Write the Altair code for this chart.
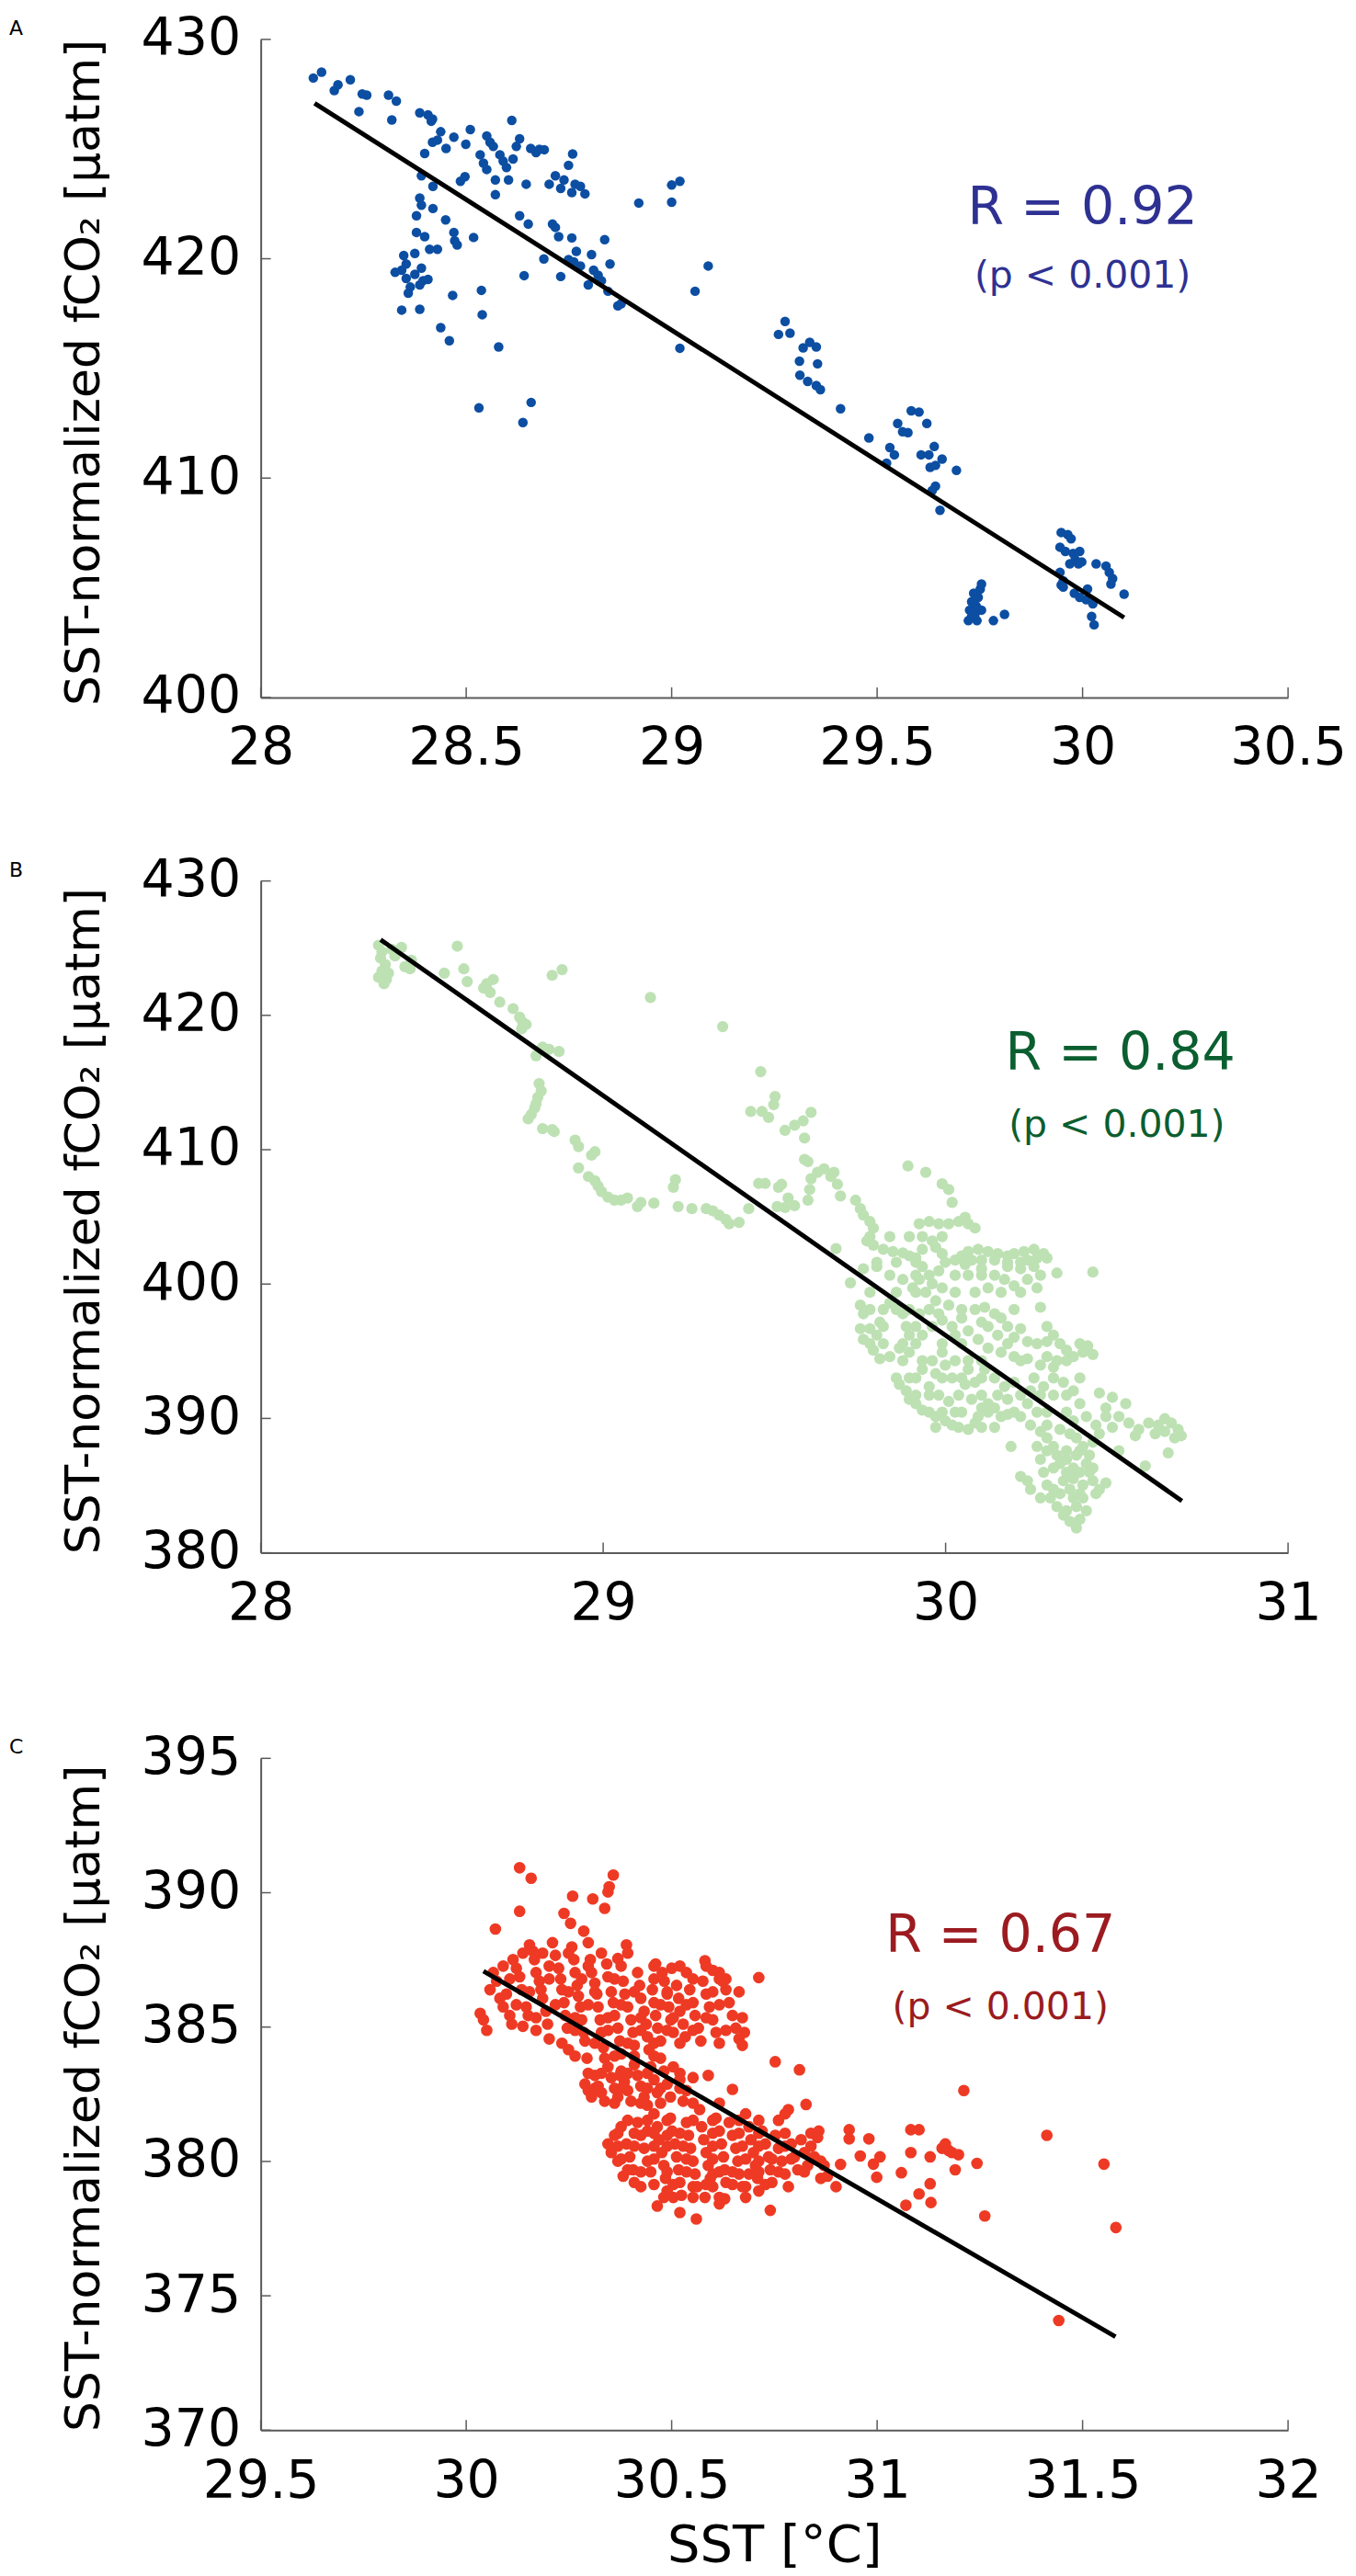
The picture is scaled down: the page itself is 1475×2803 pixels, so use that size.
import altair as alt
import pandas as pd

# ---------------- Panel A (blue) : (SST, fCO2) ----------------
A_POINTS = [
    (28.128, 428.24), (28.148, 428.51), (28.179, 427.67), (28.188, 427.93), (28.218, 428.16),
    (28.239, 426.71), (28.247, 427.51), (28.258, 427.46), (28.311, 427.46), (28.330, 427.19),
    (28.319, 426.33), (28.387, 426.65), (28.407, 426.56), (28.415, 426.27), (28.418, 426.37),
    (28.399, 424.80), (28.418, 425.31), (28.438, 425.79), (28.430, 425.41), (28.451, 425.03),
    (28.470, 425.54), (28.391, 423.78), (28.419, 423.30), (28.486, 423.53), (28.497, 423.74),
    (28.499, 425.22), (28.510, 425.89), (28.534, 424.74), (28.542, 424.36), (28.550, 425.60),
    (28.550, 424.07), (28.558, 425.31), (28.566, 425.12), (28.571, 423.59), (28.571, 422.92),
    (28.582, 424.74), (28.590, 424.45), (28.598, 424.16), (28.603, 423.59), (28.611, 426.31),
    (28.614, 424.55), (28.622, 425.12), (28.630, 425.47), (28.646, 423.40), (28.657, 425.03),
    (28.670, 424.84), (28.678, 424.99), (28.690, 424.97), (28.702, 423.40), (28.717, 423.78),
    (28.730, 423.21), (28.738, 423.59), (28.749, 424.26), (28.759, 424.78), (28.757, 423.02),
    (28.765, 423.40), (28.778, 423.30), (28.789, 422.96), (28.387, 422.77), (28.391, 422.44),
    (28.419, 422.29), (28.379, 421.96), (28.450, 421.77), (28.379, 421.20), (28.399, 421.01),
    (28.470, 421.20), (28.472, 420.82), (28.478, 420.63), (28.518, 420.97), (28.411, 420.43),
    (28.430, 420.43), (28.375, 420.24), (28.348, 420.15), (28.354, 419.76), (28.343, 419.48),
    (28.327, 419.38), (28.354, 419.10), (28.375, 419.29), (28.391, 419.57), (28.395, 419.00),
    (28.407, 419.06), (28.364, 418.71), (28.387, 418.81), (28.359, 418.43), (28.343, 417.66),
    (28.387, 417.70), (28.467, 418.33), (28.537, 418.56), (28.539, 417.45), (28.438, 416.86),
    (28.459, 416.26), (28.579, 415.98), (28.531, 413.20), (28.638, 412.53), (28.658, 413.45),
    (28.630, 421.96), (28.651, 421.58), (28.641, 419.23), (28.689, 419.99), (28.710, 421.58),
    (28.717, 421.43), (28.725, 421.01), (28.730, 419.19), (28.757, 420.95), (28.749, 419.96),
    (28.762, 419.86), (28.768, 420.34), (28.778, 419.67), (28.805, 420.19), (28.810, 419.48),
    (28.821, 419.25), (28.829, 419.00), (28.797, 418.81), (28.837, 420.87), (28.850, 419.76),
    (28.845, 418.52), (28.869, 417.85), (28.877, 417.95), (28.920, 422.54), (29.000, 422.58),
    (29.000, 423.36), (29.020, 423.53), (29.089, 419.67), (29.057, 418.52), (29.020, 415.92),
    (29.260, 416.55), (29.276, 417.14), (29.288, 416.61), (29.320, 415.94), (29.336, 416.19),
    (29.352, 415.98), (29.311, 415.33), (29.355, 415.21), (29.312, 414.69), (29.331, 414.41),
    (29.352, 414.22), (29.362, 414.03), (29.411, 413.16), (29.480, 411.83), (29.523, 410.68),
    (29.531, 411.39), (29.542, 411.06), (29.550, 412.49), (29.562, 412.11), (29.575, 412.07),
    (29.583, 413.07), (29.602, 413.01), (29.621, 412.49), (29.607, 411.06), (29.626, 411.06),
    (29.639, 411.44), (29.629, 410.49), (29.642, 410.58), (29.658, 410.87), (29.642, 409.63),
    (29.634, 409.43), (29.653, 408.53), (29.693, 410.35),
    (29.722, 403.50), (29.725, 403.98), (29.730, 404.36), (29.735, 404.75), (29.738, 403.79),
    (29.741, 404.17), (29.746, 404.56), (29.751, 404.94), (29.754, 405.17), (29.743, 403.50),
    (29.754, 403.98), (29.730, 403.69), (29.783, 403.50), (29.810, 403.79),
    (29.948, 407.52), (29.964, 407.42), (29.972, 407.23), (29.945, 406.85), (29.958, 406.66),
    (29.977, 406.56), (29.993, 406.66), (29.982, 406.28), (29.969, 406.09), (29.990, 406.09),
    (29.998, 406.18), (29.945, 405.70), (29.953, 405.32), (29.948, 405.13), (29.980, 404.75),
    (29.993, 404.56), (30.012, 404.94), (30.009, 404.46), (30.025, 404.27), (30.022, 403.69),
    (30.028, 403.31), (30.033, 406.09), (30.057, 405.99), (30.065, 405.70), (30.073, 405.42),
    (30.069, 405.17), (30.101, 404.71), (29.953, 405.03),
]
A_FIT_SST = [28.131, 30.101]
A_FIT_FCO2 = [427.09, 403.64]

# ---------------- Panel B (green) ----------------
B_UPPER = [
    (28.344, 425.22), (28.354, 424.74), (28.350, 424.26), (28.364, 423.78), (28.354, 423.30),
    (28.344, 422.83), (28.360, 422.35), (28.367, 422.67), (28.373, 423.14), (28.383, 424.90),
    (28.392, 424.42), (28.411, 425.06), (28.421, 423.62), (28.436, 423.46), (28.440, 424.10),
    (28.574, 425.15), (28.536, 423.14), (28.593, 423.46), (28.603, 422.51), (28.651, 422.03),
    (28.660, 422.35), (28.670, 421.71), (28.679, 422.67), (28.698, 420.98), (28.737, 420.50),
    (28.756, 419.86), (28.765, 419.48), (28.775, 419.32), (28.762, 419.00), (28.851, 422.98),
    (28.880, 423.40), (29.138, 421.33), (29.349, 419.16), (28.823, 417.63), (28.842, 417.47),
    (28.871, 417.31), (28.804, 416.99),
]
B_ARC = [
    (28.813, 414.92), (28.819, 414.37), (28.809, 413.90), (28.804, 413.42), (28.800, 413.10),
    (28.790, 412.62), (28.781, 412.30), (28.823, 411.57), (28.851, 411.50), (28.857, 411.35),
    (28.918, 410.71), (28.928, 410.23), (28.966, 409.59), (28.976, 409.85), (28.928, 408.64),
    (28.957, 408.00), (28.976, 407.68), (28.985, 407.30), (28.995, 406.88), (29.014, 406.47),
    (29.033, 406.24), (29.052, 406.24), (29.071, 406.40), (29.100, 405.77), (29.110, 406.08),
    (29.148, 406.02), (29.205, 407.20), (29.211, 407.77), (29.219, 405.77), (29.259, 405.61),
    (29.301, 405.61), (29.320, 405.45), (29.339, 405.13), (29.358, 404.81), (29.368, 404.49),
    (29.397, 404.59), (29.425, 405.61),
]
B_MID = [
    (29.460, 415.81), (29.502, 413.96), (29.498, 413.35), (29.431, 412.84), (29.464, 412.84),
    (29.483, 412.40), (29.531, 411.44), (29.559, 411.82), (29.584, 412.14), (29.607, 412.78),
    (29.588, 410.87), (29.588, 409.27), (29.598, 409.11), (29.454, 407.49), (29.473, 407.49),
    (29.512, 407.20), (29.521, 407.42), (29.540, 406.40), (29.531, 405.70), (29.508, 405.77),
    (29.559, 405.83), (29.598, 406.24), (29.603, 407.04), (29.607, 407.84), (29.626, 408.32),
    (29.645, 408.57), (29.665, 408.00), (29.674, 408.32), (29.684, 407.42), (29.693, 406.56),
    (29.737, 406.24), (29.751, 405.61), (29.760, 405.13), (29.779, 404.65), (29.789, 404.17),
    (29.680, 402.64), (29.890, 408.79), (29.942, 408.32), (29.990, 407.46), (30.009, 407.04),
    (30.019, 406.08),
]
B_CORE = [
    (29.923, 404.49), (29.952, 404.65), (29.980, 404.49), (30.009, 404.49), (30.038, 404.65),
    (30.066, 404.49), (30.086, 404.17), (30.057, 404.97),
    (29.770, 403.21), (29.789, 402.90), (29.818, 402.58), (29.846, 402.42), (29.875, 402.32),
    (29.894, 402.10), (29.913, 401.94), (29.932, 402.58), (29.961, 403.21), (29.971, 402.74),
    (29.990, 402.26), (30.028, 401.78), (30.047, 402.10), (30.066, 402.42), (30.095, 402.58),
    (30.124, 402.42), (30.152, 402.26), (30.181, 402.10), (30.200, 402.26), (30.229, 402.42),
    (30.258, 402.58), (30.286, 402.26), (30.296, 401.94), (30.267, 401.94), (30.239, 401.78),
    (30.219, 401.62), (30.181, 401.62), (30.143, 401.78), (30.105, 401.78), (30.076, 401.78),
    (30.057, 401.46),
    (29.932, 401.30), (29.952, 400.66), (29.961, 400.02), (29.942, 399.39), (29.971, 398.75),
    (29.952, 398.11), (29.980, 400.98), (29.923, 400.34), (29.904, 399.71), (29.990, 399.71),
    (30.105, 401.14), (30.143, 400.66), (30.172, 400.34), (30.200, 399.87), (30.239, 400.34),
    (30.267, 399.71), (30.277, 400.66), (30.325, 400.82), (30.430, 400.89), (30.258, 401.30),
    (30.219, 401.14), (30.181, 401.30), (30.124, 399.71), (30.086, 399.39),
    (29.722, 400.09), (29.760, 401.14), (29.799, 401.30), (29.837, 400.66), (29.875, 400.34),
    (29.751, 398.43), (29.760, 397.79), (29.751, 396.68), (29.760, 395.88), (29.779, 395.56),
    (29.799, 396.20), (29.808, 397.16), (29.818, 398.11), (29.837, 398.59), (29.856, 398.11),
    (29.875, 397.79), (29.885, 396.84), (29.894, 396.20), (29.779, 396.68), (29.789, 395.08),
    (29.808, 394.44), (29.837, 394.60), (29.865, 395.24), (29.894, 394.92), (29.913, 395.56),
    (29.932, 396.20), (29.961, 396.84), (29.990, 397.31), (30.019, 396.84), (30.028, 396.20),
    (30.047, 397.47), (30.066, 396.52), (29.923, 397.79), (29.980, 397.79), (30.009, 398.43),
    (30.114, 398.27), (30.143, 397.79), (30.162, 397.47), (30.181, 396.84), (30.219, 396.68),
    (30.200, 396.04), (30.277, 398.27), (30.239, 395.72), (30.267, 395.56), (30.296, 395.72),
    (30.315, 396.20), (30.334, 395.56), (30.353, 395.08), (30.392, 395.56), (30.415, 395.40),
    (30.430, 394.76), (30.401, 394.92), (30.373, 394.60), (30.325, 394.29), (30.296, 394.60),
    (30.152, 396.20), (30.105, 397.16), (30.095, 395.88), (30.124, 395.24), (30.162, 394.92),
    (30.200, 394.60), (30.239, 394.44), (30.277, 393.97), (30.315, 393.81),
]
B_CORE_DENSE = [
    (29.779, 403.53), (29.837, 403.53), (29.894, 403.53), (29.932, 403.53), (29.990, 403.53),
    (29.799, 401.62), (29.856, 401.62), (29.913, 401.62), (29.999, 401.62),
    (29.913, 400.66), (30.028, 400.66), (30.066, 400.66), (30.105, 400.66),
    (29.779, 399.39), (29.856, 399.39), (29.913, 399.39), (30.028, 399.39), (30.162, 399.39),
    (30.219, 399.39),
    (29.779, 398.11), (29.894, 398.11), (30.047, 398.11), (30.086, 398.11), (30.200, 398.11),
    (29.818, 396.84), (29.913, 396.84), (30.124, 396.84), (30.296, 396.84),
    (29.818, 395.56), (29.875, 395.56), (29.990, 395.56), (30.047, 395.56), (30.181, 395.56),
    (29.875, 394.29), (29.932, 394.29), (30.066, 394.29), (30.105, 394.29), (30.219, 394.29),
    (30.353, 394.29),
    (29.894, 393.01), (29.990, 393.01), (30.047, 393.01), (30.105, 393.01), (30.258, 393.01),
    (30.392, 393.01),
    (29.913, 391.73), (29.952, 391.73), (30.105, 391.73), (30.152, 391.73), (30.277, 391.73),
    (30.353, 391.73),
    (29.990, 390.46), (30.028, 390.46), (30.124, 390.46), (30.200, 390.46), (30.296, 390.46),
    (29.971, 389.34), (30.105, 389.34), (30.143, 389.34),
    (30.296, 387.59), (30.353, 387.59), (30.392, 387.59),
    (30.315, 386.31), (30.373, 386.31), (30.430, 386.31),
    (30.334, 384.40), (30.392, 384.40), (30.439, 384.40),
    (30.353, 383.13), (30.411, 383.13),
]
B_LOWER = [
    (29.856, 393.01), (29.865, 392.53), (29.885, 392.05), (29.894, 391.42), (29.913, 391.10),
    (29.932, 390.62), (29.952, 390.46), (29.971, 390.14), (29.999, 389.82), (30.019, 389.50),
    (30.038, 389.34), (30.066, 389.18), (30.086, 389.66), (30.095, 390.14), (30.105, 390.78),
    (30.124, 391.10), (30.143, 390.78), (30.162, 390.14), (30.181, 390.30), (29.952, 392.37),
    (29.971, 393.33), (29.999, 393.97), (30.019, 393.01), (30.038, 391.73), (30.057, 392.53),
    (30.066, 393.65), (30.028, 394.29), (29.990, 394.92), (29.961, 394.29), (29.932, 393.65),
    (29.913, 393.01), (30.076, 391.42), (30.009, 391.26), (29.980, 391.73), (30.047, 390.46),
    (30.086, 392.69), (30.114, 393.65), (30.143, 393.01), (30.172, 392.37), (30.200, 392.69),
    (30.219, 391.73), (30.181, 391.42), (30.239, 391.10), (30.267, 390.46), (30.248, 392.05),
    (30.286, 392.37), (30.315, 391.73), (30.344, 392.69), (30.373, 392.05), (30.392, 391.10),
    (30.353, 390.46), (30.315, 393.01),
    (30.219, 390.14), (30.248, 389.50), (30.277, 389.02), (30.296, 388.55), (30.315, 387.91),
    (30.325, 387.27), (30.334, 386.63), (30.353, 385.99), (30.373, 385.52), (30.392, 385.99),
    (30.411, 386.63), (30.420, 387.27), (30.401, 387.91), (30.382, 388.55), (30.363, 388.86),
    (30.334, 389.18), (30.296, 389.50), (30.267, 387.91), (30.277, 386.95), (30.286, 385.99),
    (30.296, 385.04), (30.306, 384.08), (30.325, 383.44), (30.344, 382.80), (30.363, 382.33),
    (30.382, 381.85), (30.392, 382.49), (30.382, 383.44), (30.373, 384.08), (30.363, 384.72),
    (30.401, 385.04), (30.430, 385.36), (30.449, 384.72), (30.468, 385.20), (30.219, 385.68),
    (30.239, 385.36), (30.248, 384.72), (30.191, 387.91), (30.277, 384.08), (30.315, 384.72),
    (30.344, 385.36), (30.420, 385.99), (30.401, 384.08), (30.353, 386.95), (30.382, 387.27),
    (30.430, 388.23), (30.449, 388.86), (30.439, 389.50), (30.411, 390.14), (30.373, 389.82),
    (30.468, 390.14),
    (30.449, 391.89), (30.487, 391.57), (30.526, 391.10), (30.468, 390.78), (30.506, 390.14),
    (30.535, 389.66), (30.564, 389.18), (30.593, 389.66), (30.621, 389.50), (30.640, 389.98),
    (30.659, 389.66), (30.679, 389.18), (30.688, 388.71), (30.669, 388.55), (30.640, 389.02),
    (30.612, 388.86), (30.506, 387.59), (30.583, 386.47), (30.650, 387.43), (30.554, 388.71),
    (30.487, 389.34),
]
B_FIT_SST = [28.35, 30.69]
B_FIT_FCO2 = [425.63, 383.86]

# ---------------- Panel C (red) ----------------
C_SCATTER = [
    (30.130, 390.93), (30.158, 390.54), (30.358, 390.66), (30.348, 390.22), (30.345, 390.03),
    (30.259, 389.87), (30.308, 389.77), (30.337, 389.42), (30.130, 389.31), (30.238, 389.23),
    (30.071, 388.65), (30.286, 388.57), (30.390, 388.06), (30.369, 387.55), (30.461, 387.35),
    (30.500, 387.19), (30.581, 387.47), (30.712, 386.84), (30.752, 383.71), (30.811, 383.41),
    (30.648, 382.68), (30.589, 383.20), (31.211, 382.64), (31.413, 380.97), (31.552, 379.90),
    (31.581, 377.54), (31.442, 374.08), (31.262, 377.97), (31.243, 379.93), (31.190, 379.69),
    (31.166, 380.65), (31.174, 380.41), (31.158, 380.49), (31.182, 380.33), (31.198, 380.25),
    (31.129, 380.17), (31.129, 379.17), (31.131, 378.47), (31.102, 378.79), (31.070, 378.37),
    (31.082, 380.33), (31.082, 381.18), (31.102, 381.18), (31.059, 379.58), (30.999, 379.41),
    (30.991, 379.90), (31.007, 380.17), (30.980, 380.84), (30.932, 381.18), (30.932, 380.84),
    (30.959, 380.20), (30.911, 379.89), (30.900, 379.06), (30.858, 381.13), (30.863, 379.37),
    (30.827, 382.12),
]
C_UPPER = [
    (30.034, 385.51), (30.042, 385.27), (30.050, 384.88), (30.058, 386.39), (30.066, 387.03),
    (30.074, 386.71), (30.082, 386.07), (30.090, 385.75), (30.098, 386.23), (30.106, 385.43),
    (30.111, 385.11), (30.114, 387.51), (30.122, 387.19), (30.130, 386.87), (30.135, 386.39),
    (30.138, 385.03), (30.146, 385.75), (30.151, 385.43), (30.154, 388.06), (30.162, 387.83),
    (30.166, 387.51), (30.170, 387.03), (30.178, 386.71), (30.182, 386.39), (30.186, 386.07),
    (30.194, 385.59), (30.198, 385.11), (30.202, 384.56), (30.210, 388.14), (30.217, 387.67),
    (30.225, 387.19), (30.230, 386.79), (30.233, 386.39), (30.238, 385.91), (30.241, 385.43),
    (30.246, 384.96), (30.249, 384.16), (30.254, 388.86), (30.257, 387.98), (30.262, 387.51),
    (30.265, 387.03), (30.270, 386.55), (30.273, 386.15), (30.278, 385.75), (30.281, 385.27),
    (30.286, 384.80), (30.289, 384.48), (30.294, 383.84), (30.297, 388.14), (30.302, 387.51),
    (30.305, 387.03), (30.313, 386.63), (30.318, 386.23), (30.321, 385.75), (30.326, 385.27),
    (30.329, 384.80), (30.334, 384.24), (30.337, 383.84), (30.342, 387.35), (30.345, 386.87),
    (30.353, 386.31), (30.358, 385.91), (30.361, 385.43), (30.369, 384.96), (30.374, 384.48),
    (30.377, 384.00), (30.382, 386.71), (30.386, 386.23), (30.393, 385.75), (30.401, 385.27),
    (30.406, 384.80), (30.409, 384.32), (30.417, 387.03), (30.422, 386.55), (30.425, 386.07),
    (30.433, 385.59), (30.438, 385.11), (30.441, 384.64), (30.445, 384.16), (30.453, 386.39),
    (30.457, 385.91), (30.461, 385.43), (30.466, 384.96), (30.473, 384.48), (30.477, 387.03),
    (30.482, 386.71), (30.489, 386.23), (30.493, 385.75), (30.498, 385.27), (30.504, 384.80),
    (30.512, 386.55), (30.517, 386.07), (30.520, 385.59), (30.528, 385.11), (30.533, 384.64),
    (30.536, 387.03), (30.544, 386.39), (30.552, 385.91), (30.557, 385.43), (30.565, 384.96),
    (30.571, 384.48), (30.576, 386.71), (30.584, 386.23), (30.592, 385.75), (30.600, 385.27),
    (30.608, 384.80), (30.616, 387.03), (30.624, 386.71), (30.632, 386.39), (30.640, 385.91),
    (30.648, 385.43), (30.656, 384.96), (30.664, 384.56), (30.672, 384.32), (30.677, 384.80),
    (30.600, 387.11), (30.632, 386.79),
]
C_UPPER_DENSE = [
    (30.138, 387.75), (30.186, 387.75), (30.249, 387.75), (30.329, 387.75), (30.393, 387.75),
    (30.090, 387.27), (30.202, 387.27), (30.297, 387.27), (30.377, 387.27), (30.457, 387.27),
    (30.520, 387.27), (30.584, 387.27),
    (30.106, 386.79), (30.202, 386.79), (30.281, 386.79), (30.361, 386.79), (30.457, 386.79),
    (30.552, 386.79), (30.616, 386.79),
    (30.154, 386.31), (30.249, 386.31), (30.313, 386.31), (30.409, 386.31), (30.489, 386.31),
    (30.600, 386.31), (30.664, 386.31),
    (30.122, 385.83), (30.217, 385.83), (30.297, 385.83), (30.377, 385.83), (30.473, 385.83),
    (30.536, 385.83), (30.616, 385.83),
    (30.170, 385.35), (30.265, 385.35), (30.345, 385.35), (30.425, 385.35), (30.504, 385.35),
    (30.584, 385.35), (30.672, 385.35),
    (30.170, 384.88), (30.265, 384.88), (30.345, 384.88), (30.425, 384.88), (30.489, 384.88),
    (30.552, 384.88), (30.632, 384.88),
    (30.233, 384.40), (30.313, 384.40), (30.393, 384.40), (30.457, 384.40), (30.520, 384.40),
    (30.616, 384.40),
    (30.265, 383.92), (30.361, 383.92), (30.409, 383.92), (30.457, 383.92),
]
C_MIDDLE = [
    (30.289, 382.88), (30.297, 382.64), (30.305, 382.40), (30.313, 383.20), (30.321, 382.80),
    (30.329, 382.56), (30.337, 382.24), (30.345, 383.52), (30.353, 383.12), (30.361, 382.72),
    (30.369, 382.40), (30.377, 383.36), (30.385, 382.96), (30.393, 382.64), (30.401, 382.24),
    (30.409, 383.60), (30.417, 383.20), (30.425, 382.80), (30.433, 382.40), (30.441, 382.09),
    (30.449, 383.52), (30.457, 383.04), (30.465, 382.56), (30.473, 383.84), (30.481, 383.36),
    (30.489, 382.88), (30.497, 382.40), (30.504, 383.52), (30.520, 383.04), (30.536, 382.64),
    (30.552, 383.12), (30.374, 383.20),
    (30.297, 383.28), (30.329, 383.28), (30.393, 383.28), (30.441, 383.28), (30.520, 383.28),
    (30.313, 382.72), (30.377, 382.72), (30.441, 382.72), (30.473, 382.72), (30.520, 382.72),
    (30.361, 382.17), (30.425, 382.17), (30.473, 382.17), (30.552, 382.17), (30.616, 382.17),
]
C_LOWER = [
    (30.345, 380.65), (30.353, 380.33), (30.361, 380.97), (30.369, 380.01), (30.377, 381.29),
    (30.382, 379.45), (30.390, 380.65), (30.398, 380.17), (30.406, 379.69), (30.409, 379.22),
    (30.417, 381.45), (30.425, 380.97), (30.433, 380.49), (30.441, 380.01), (30.449, 379.61),
    (30.457, 381.77), (30.465, 381.29), (30.469, 380.81), (30.476, 380.33), (30.481, 379.85),
    (30.485, 379.37), (30.489, 378.90), (30.465, 378.34), (30.481, 378.66), (30.497, 381.61),
    (30.501, 381.13), (30.508, 380.65), (30.512, 380.17), (30.517, 379.69), (30.520, 379.22),
    (30.524, 378.74), (30.520, 378.10), (30.528, 382.24), (30.536, 381.45), (30.541, 380.97),
    (30.546, 380.49), (30.552, 380.01), (30.557, 379.53), (30.562, 379.06), (30.560, 377.86),
    (30.568, 381.93), (30.573, 381.29), (30.578, 380.81), (30.584, 380.33), (30.589, 379.85),
    (30.594, 379.37), (30.600, 379.06), (30.581, 378.66), (30.608, 381.61), (30.616, 381.13),
    (30.621, 380.65), (30.626, 380.17), (30.629, 379.69), (30.632, 379.22), (30.629, 378.61),
    (30.640, 381.45), (30.648, 380.97), (30.656, 380.49), (30.661, 380.01), (30.664, 379.53),
    (30.672, 379.06), (30.680, 381.77), (30.688, 381.29), (30.693, 380.81), (30.699, 380.33),
    (30.704, 379.85), (30.709, 379.37), (30.712, 378.90), (30.720, 381.13), (30.728, 380.65),
    (30.736, 380.17), (30.740, 379.69), (30.744, 379.22), (30.740, 378.18), (30.752, 380.97),
    (30.760, 380.49), (30.768, 380.01), (30.776, 379.53), (30.784, 379.06), (30.791, 380.65),
    (30.799, 380.17), (30.807, 379.69), (30.815, 380.81), (30.823, 380.33), (30.831, 379.85),
    (30.839, 380.57), (30.847, 380.17), (30.855, 380.89), (30.863, 380.01), (30.871, 379.85),
    (30.879, 379.45), (30.776, 381.77), (30.784, 381.93), (30.441, 381.13), (30.393, 379.69),
    (30.425, 379.06), (30.616, 378.42), (30.680, 379.06), (30.600, 379.53), (30.712, 380.01),
    (30.688, 379.53), (30.489, 380.97), (30.552, 379.06),
]
C_LOWER_DENSE = [
    (30.393, 381.53), (30.441, 381.53), (30.489, 381.53), (30.552, 381.53), (30.600, 381.53),
    (30.664, 381.53), (30.712, 381.53), (30.760, 381.53),
    (30.369, 381.05), (30.409, 381.05), (30.457, 381.05), (30.520, 381.05), (30.600, 381.05),
    (30.664, 381.05), (30.712, 381.05), (30.776, 381.05), (30.839, 381.05),
    (30.369, 380.57), (30.409, 380.57), (30.457, 380.57), (30.489, 380.57), (30.528, 380.57),
    (30.600, 380.57), (30.672, 380.57), (30.712, 380.57), (30.776, 380.57),
    (30.377, 380.09), (30.457, 380.09), (30.536, 380.09), (30.600, 380.09), (30.680, 380.09),
    (30.744, 380.09), (30.791, 380.09), (30.847, 380.09),
    (30.425, 379.61), (30.489, 379.61), (30.536, 379.61), (30.616, 379.61), (30.648, 379.61),
    (30.712, 379.61), (30.760, 379.61), (30.823, 379.61),
    (30.457, 379.14), (30.504, 379.14), (30.584, 379.14), (30.648, 379.14), (30.728, 379.14),
    (30.504, 378.66), (30.552, 378.66), (30.616, 378.66), (30.680, 378.66),
]
C_FIT_SST = [30.042, 31.58]
C_FIT_FCO2 = [387.08, 373.48]

# ---------------- axes / annotations ----------------
A_XTICKS = [28, 28.5, 29, 29.5, 30, 30.5]
A_YTICKS = [400, 410, 420, 430]
B_XTICKS = [28, 29, 30, 31]
B_YTICKS = [380, 390, 400, 410, 420, 430]
C_XTICKS = [29.5, 30, 30.5, 31, 31.5, 32]
C_YTICKS = [370, 375, 380, 385, 390, 395]

Y_TITLE = "SST-normalized  fCO\u2082 [\u03bcatm]"
X_TITLE = "SST [\u00b0C]"

FONT = "DejaVu Sans"
AXIS_GREY = "#5a5a5a"
W = 1119


def panel(points_lists, dot_color, dot_size, xdom, ydom, xticks, yticks,
          fit_x, fit_y, r_label, r_xy, p_xy, text_color, letter, height, xtitle):
    pts = [p for lst in points_lists for p in lst]
    df = pd.DataFrame(pts, columns=["sst", "fco2"])
    xs = alt.Scale(domain=xdom, nice=False, zero=False)
    ys = alt.Scale(domain=ydom, nice=False, zero=False)

    if xtitle:
        xaxis = alt.Axis(values=xticks, title=xtitle, labelExpr="'' + datum.value")
    else:
        xaxis = alt.Axis(values=xticks, title=None, labelExpr="'' + datum.value")
    yaxis = alt.Axis(values=yticks, title=Y_TITLE, labelExpr="'' + datum.value",
                     titleX=-165, titleY=height / 2 + 4)

    dots = alt.Chart(df).mark_circle(size=dot_size, opacity=1, color=dot_color).encode(
        x=alt.X("sst:Q", scale=xs, axis=xaxis),
        y=alt.Y("fco2:Q", scale=ys, axis=yaxis),
    )

    fit_df = pd.DataFrame({"sst": fit_x, "fco2": fit_y})
    fit = alt.Chart(fit_df).mark_line(color="black", strokeWidth=5).encode(
        x=alt.X("sst:Q", scale=xs),
        y=alt.Y("fco2:Q", scale=ys),
    )

    ytk = alt.Chart(pd.DataFrame({"fco2": yticks})).mark_rule(
        color=AXIS_GREY, strokeWidth=1.5).encode(
        y=alt.Y("fco2:Q", scale=ys), x=alt.value(0), x2=alt.value(11))
    xtk = alt.Chart(pd.DataFrame({"sst": xticks})).mark_rule(
        color=AXIS_GREY, strokeWidth=1.5).encode(
        x=alt.X("sst:Q", scale=xs), y=alt.value(height), y2=alt.value(height - 11))

    ann = pd.DataFrame({
        "sst": [r_xy[0], p_xy[0]],
        "fco2": [r_xy[1], p_xy[1]],
        "t": [r_label, "(p < 0.001)"],
        "fs": [57, 41],
    })
    texts = alt.Chart(ann).mark_text(font=FONT, color=text_color, align="center",
                                     baseline="middle").encode(
        x=alt.X("sst:Q", scale=xs),
        y=alt.Y("fco2:Q", scale=ys),
        text="t:N",
        size=alt.Size("fs:Q", scale=None, legend=None),
    )

    let = alt.Chart(pd.DataFrame({"t": [letter]})).mark_text(
        font=FONT, fontSize=22, color="black", align="left", baseline="top").encode(
        x=alt.value(-274), y=alt.value(-22), text="t:N")

    return alt.layer(dots, fit, ytk, xtk, texts, let).properties(width=W, height=height)


pa = panel([A_POINTS], "#0C4EA2", 110, [28, 30.5], [400, 430], A_XTICKS, A_YTICKS,
           A_FIT_SST, A_FIT_FCO2, "R = 0.92", (30.0, 422.3), (30.0, 419.2),
           "#2E3192", "A", 717, None)
pb = panel([B_UPPER, B_ARC, B_MID, B_CORE, B_CORE_DENSE, B_LOWER], "#BDE1B3", 150,
           [28, 31], [380, 430], B_XTICKS, B_YTICKS, B_FIT_SST, B_FIT_FCO2,
           "R = 0.84", (30.51, 417.1), (30.50, 411.8), "#0B5E2F", "B", 732, None)
pc = panel([C_SCATTER, C_UPPER, C_UPPER_DENSE, C_MIDDLE, C_LOWER, C_LOWER_DENSE],
           "#EE3A24", 160, [29.5, 32], [370, 395], C_XTICKS, C_YTICKS,
           C_FIT_SST, C_FIT_FCO2, "R = 0.67", (31.30, 388.37), (31.30, 385.7),
           "#9B1B20", "C", 732, X_TITLE)

chart = alt.vconcat(
    alt.vconcat(pa, pb, spacing=87),
    pc, spacing=111,
).properties(
    padding={"left": 2, "top": 4, "right": 2, "bottom": 2},
    background="white",
).configure_view(
    stroke=None
).configure_axis(
    ticks=False, grid=False,
    labelFontSize=57, labelFont=FONT, labelColor="black",
    labelFlush=False, labelOverlap=False,
    domainColor=AXIS_GREY, domainWidth=2,
    titleFontSize=52, titleFont=FONT, titleFontWeight="normal", titleColor="black",
).configure_axisX(
    labelPadding=28, titlePadding=14, titleFontSize=56,
).configure_axisY(
    labelPadding=22,
)

chart.save("out.html", embed_options={"renderer": "svg", "actions": False})
